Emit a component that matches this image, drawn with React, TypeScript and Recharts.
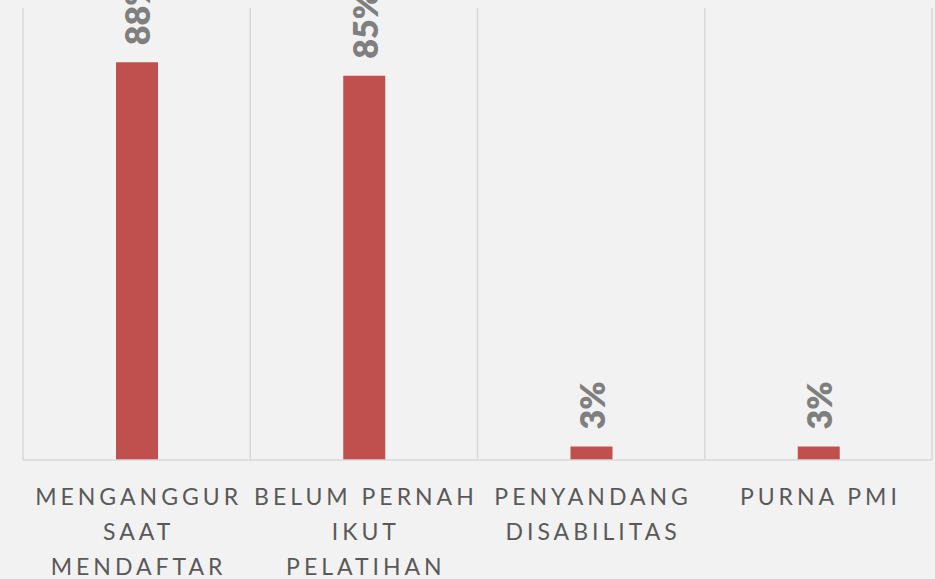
import { Bar, BarChart, CartesianGrid, LabelList, XAxis, YAxis } from 'recharts';

const categories = [
  'MENGANGGUR\nSAAT\nMENDAFTAR',
  'BELUM PERNAH\nIKUT\nPELATIHAN',
  'PENYANDANG\nDISABILITAS',
  'PURNA PMI',
];
const percentages = [88, 85, 3, 3];

const chartData = categories.map((name, i) => ({ name, value: percentages[i] }));

const FONT = 'Lato, "Open Sans", sans-serif';

// vertical grid lines sit on the category boundaries, not on the tick centres
const boundaryLines = ({ offset }: any) => {
  const step = offset.width / categories.length;
  return Array.from({ length: categories.length + 1 }, (_, i) => offset.left + i * step);
};

function CategoryTick({ x, y, payload }: any) {
  const lines = String(payload.value).split('\n');
  return (
    <text
      x={x}
      y={y}
      textAnchor="middle"
      fill="#595959"
      fontFamily={FONT}
      fontSize={23}
      letterSpacing={4}
    >
      {lines.map((line, i) => (
        <tspan key={i} x={x + 2} y={y + 36.5 + i * 35}>
          {line}
        </tspan>
      ))}
    </text>
  );
}

function ValueLabel({ x, y, width, value }: any) {
  const cx = x + width / 2;
  const cy = y - 17;
  return (
    <text
      x={cx}
      y={cy}
      transform={`rotate(-90 ${cx} ${cy})`}
      textAnchor="start"
      dominantBaseline="central"
      fill="#7f7f7f"
      fontFamily={FONT}
      fontWeight={800}
      fontSize={34}
    >
      {`${value}%`}
    </text>
  );
}

export default function App() {
  return (
    <div style={{ width: 935, height: 579, background: '#f2f2f2' }}>
      <style>{'body{margin:0}'}</style>
      <BarChart
        width={935}
        height={579}
        data={chartData}
        margin={{ top: 8, right: 3, bottom: 0, left: 23 }}
      >
        <CartesianGrid
          horizontal={false}
          stroke="#d9d9d9"
          strokeWidth={1.5}
          verticalCoordinatesGenerator={boundaryLines}
        />
        <XAxis
          dataKey="name"
          height={119}
          axisLine={{ stroke: '#d9d9d9', strokeWidth: 1.5 }}
          tickLine={false}
          interval={0}
          tick={<CategoryTick />}
        />
        <YAxis hide domain={[0, 100]} />
        <Bar dataKey="value" fill="#c0504d" barSize={42} isAnimationActive={false}>
          <LabelList dataKey="value" content={<ValueLabel />} />
        </Bar>
      </BarChart>
    </div>
  );
}
